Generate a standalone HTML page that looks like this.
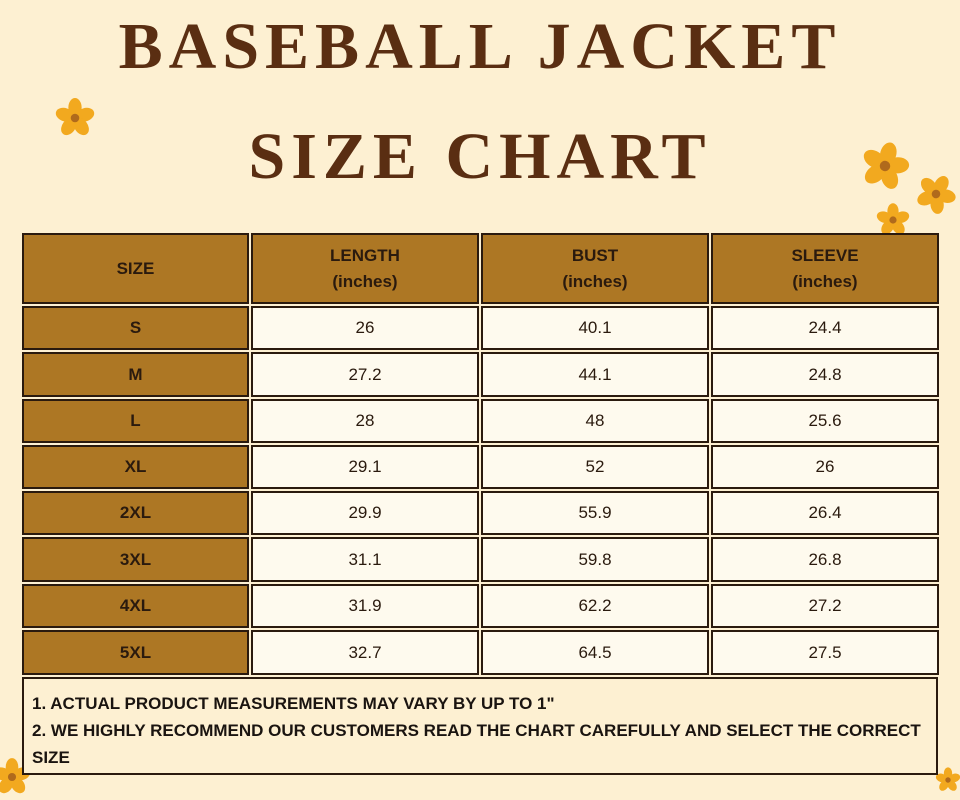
<!DOCTYPE html>
<html><head><meta charset="utf-8">
<style>
html,body{margin:0;padding:0}
body{width:960px;height:800px;background:#fdf0d2;position:relative;overflow:hidden;font-family:"Liberation Sans",sans-serif}
.t{position:absolute;left:0;width:960px;text-align:center;font-family:"Liberation Serif",serif;font-weight:bold;color:#5a2e12;letter-spacing:6px;font-size:66px;line-height:1}
.c{position:absolute;box-sizing:border-box;border:2px solid #2a1a0e;display:flex;align-items:center;justify-content:center;text-align:center;font-size:17px;color:#2a1a0e}
.b{background:#ad7724;font-weight:bold}
.w{background:#fefaee}
.h{line-height:26px}
.n{position:absolute;left:22px;top:677px;width:916px;height:98px;box-sizing:border-box;border:2px solid #2a1a0e;background:#fdf0d2;font-weight:bold;font-size:17px;color:#1a1410;padding:11px 8px 0 8px;line-height:27px}
svg{position:absolute}
</style></head><body>
<div class="t" style="top:14px">BASEBALL JACKET</div>
<div class="t" style="top:124px">SIZE CHART</div>

<svg width="0" height="0"><defs><g id="f"><g fill="#f2a91f"><ellipse cx="0" cy="-11" rx="7" ry="10"/><ellipse cx="0" cy="-11" rx="7" ry="10" transform="rotate(72)"/><ellipse cx="0" cy="-11" rx="7" ry="10" transform="rotate(144)"/><ellipse cx="0" cy="-11" rx="7" ry="10" transform="rotate(216)"/><ellipse cx="0" cy="-11" rx="7" ry="10" transform="rotate(288)"/></g><circle r="4.5" fill="#b06a1c"/></g></defs></svg>
<svg style="left:50px;top:93px" width="50" height="50"><use href="#f" transform="translate(25,25) scale(0.95)"/></svg>
<svg style="left:855px;top:138px" width="60" height="60"><use href="#f" transform="translate(30,28) scale(1.15) rotate(15)"/></svg>
<svg style="left:910px;top:168px" width="50" height="50"><use href="#f" transform="translate(26,26) scale(0.95) rotate(30)"/></svg>
<svg style="left:870px;top:198px" width="46" height="40"><use href="#f" transform="translate(23,22) scale(0.8)"/></svg>
<svg style="left:0px;top:755px" width="40" height="45"><use href="#f" transform="translate(12,22) scale(0.9)"/></svg>
<svg style="left:930px;top:762px" width="30" height="38"><use href="#f" transform="translate(18,18) scale(0.6)"/></svg>

<div class="c b" style="left:22px;top:233px;width:227px;height:71px">SIZE</div>
<div class="c b h" style="left:251px;top:233px;width:228px;height:71px">LENGTH<br>(inches)</div>
<div class="c b h" style="left:481px;top:233px;width:228px;height:71px">BUST<br>(inches)</div>
<div class="c b h" style="left:711px;top:233px;width:228px;height:71px">SLEEVE<br>(inches)</div>

<div class="c b" style="left:22px;top:306px;width:227px;height:44px">S</div><div class="c w" style="left:251px;top:306px;width:228px;height:44px">26</div><div class="c w" style="left:481px;top:306px;width:228px;height:44px">40.1</div><div class="c w" style="left:711px;top:306px;width:228px;height:44px">24.4</div>
<div class="c b" style="left:22px;top:352px;width:227px;height:45px">M</div><div class="c w" style="left:251px;top:352px;width:228px;height:45px">27.2</div><div class="c w" style="left:481px;top:352px;width:228px;height:45px">44.1</div><div class="c w" style="left:711px;top:352px;width:228px;height:45px">24.8</div>
<div class="c b" style="left:22px;top:399px;width:227px;height:44px">L</div><div class="c w" style="left:251px;top:399px;width:228px;height:44px">28</div><div class="c w" style="left:481px;top:399px;width:228px;height:44px">48</div><div class="c w" style="left:711px;top:399px;width:228px;height:44px">25.6</div>
<div class="c b" style="left:22px;top:445px;width:227px;height:44px">XL</div><div class="c w" style="left:251px;top:445px;width:228px;height:44px">29.1</div><div class="c w" style="left:481px;top:445px;width:228px;height:44px">52</div><div class="c w" style="left:711px;top:445px;width:228px;height:44px">26</div>
<div class="c b" style="left:22px;top:491px;width:227px;height:44px">2XL</div><div class="c w" style="left:251px;top:491px;width:228px;height:44px">29.9</div><div class="c w" style="left:481px;top:491px;width:228px;height:44px">55.9</div><div class="c w" style="left:711px;top:491px;width:228px;height:44px">26.4</div>
<div class="c b" style="left:22px;top:537px;width:227px;height:45px">3XL</div><div class="c w" style="left:251px;top:537px;width:228px;height:45px">31.1</div><div class="c w" style="left:481px;top:537px;width:228px;height:45px">59.8</div><div class="c w" style="left:711px;top:537px;width:228px;height:45px">26.8</div>
<div class="c b" style="left:22px;top:584px;width:227px;height:44px">4XL</div><div class="c w" style="left:251px;top:584px;width:228px;height:44px">31.9</div><div class="c w" style="left:481px;top:584px;width:228px;height:44px">62.2</div><div class="c w" style="left:711px;top:584px;width:228px;height:44px">27.2</div>
<div class="c b" style="left:22px;top:630px;width:227px;height:45px">5XL</div><div class="c w" style="left:251px;top:630px;width:228px;height:45px">32.7</div><div class="c w" style="left:481px;top:630px;width:228px;height:45px">64.5</div><div class="c w" style="left:711px;top:630px;width:228px;height:45px">27.5</div>

<div class="n">1. ACTUAL PRODUCT MEASUREMENTS MAY VARY BY UP TO 1"<br>2. WE HIGHLY RECOMMEND OUR CUSTOMERS READ THE CHART CAREFULLY AND SELECT THE CORRECT SIZE</div>
</body></html>
